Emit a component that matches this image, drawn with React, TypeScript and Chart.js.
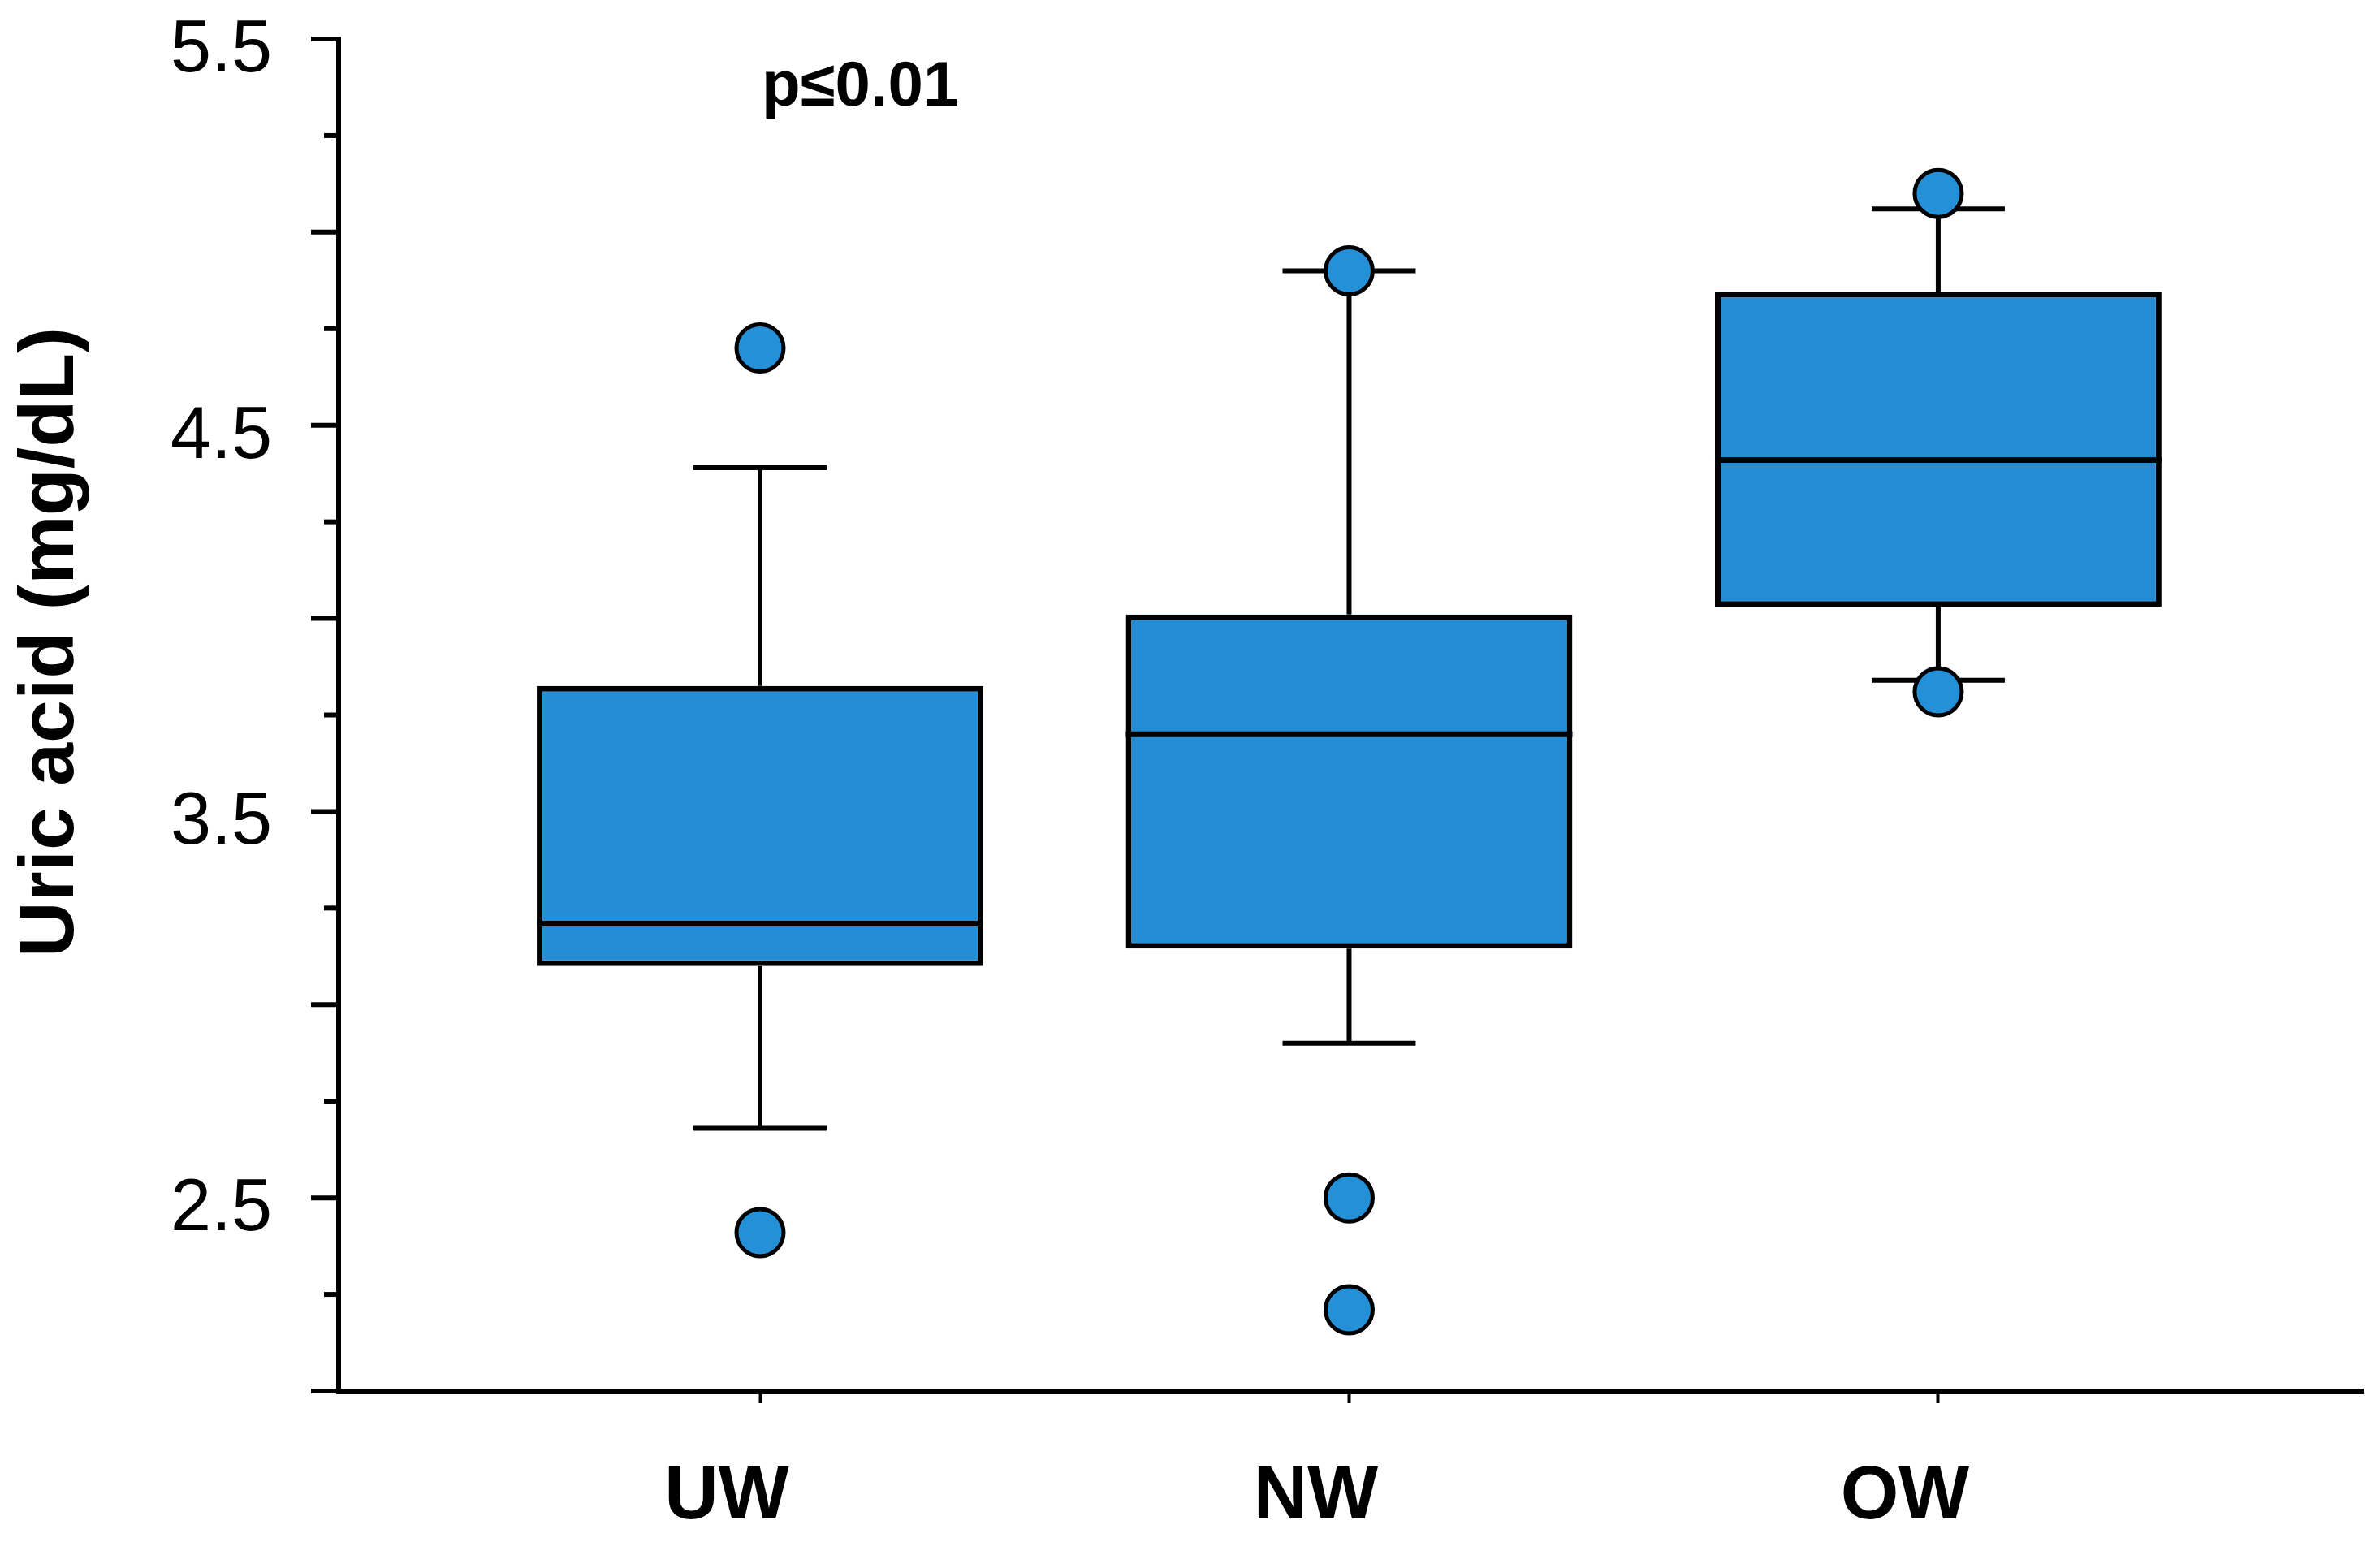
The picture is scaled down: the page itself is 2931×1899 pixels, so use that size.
import React, { useEffect, useRef } from "react";
import { Chart, registerables } from "chart.js";

Chart.register(...registerables);

// ---- data ----
const categories = ["UW", "NW", "OW"];
const q1 = [3.1, 3.145, 4.03];
const medians = [3.21, 3.7, 4.41];
const q3 = [3.825, 4.01, 4.845];
const whiskerLow = [2.68, 2.9, 3.84];
const whiskerHigh = [4.39, 4.9, 5.06];
const outlierGroup = [0, 0, 1, 1, 1, 2, 2];
const outlierValues = [4.7, 2.41, 4.9, 2.5, 2.21, 5.1, 3.81];
const yMin = 2.0;
const yMax = 5.5;
const yStep = 0.25;
const yLabelValues = [2.5, 3.5, 4.5, 5.5];
const yTitle = "Uric acid (mg/dL)";
const annotationText = "p≤0.01";

// ---- styles ----
const FONT = "'Liberation Sans', Arial, Helvetica, sans-serif";
const BOX_FILL = "#238ED6";
const POINT_FILL = "#2490D8";
const CAP_HALF = 0.113; // in category units
const X_MIN = -0.7154;
const X_MAX = 2.721;

const boxPlugin = {
  id: "boxParts",
  beforeDatasetsDraw(chart: any) {
    const { ctx, scales } = chart;
    const x = scales.x;
    const y = scales.y;
    ctx.save();
    ctx.strokeStyle = "#000";
    ctx.lineWidth = 6;
    ctx.lineCap = "butt";
    categories.forEach((_, i) => {
      const px = x.getPixelForValue(i);
      const half = x.getPixelForValue(i + CAP_HALF) - px;
      const yHi = y.getPixelForValue(whiskerHigh[i]);
      const yLo = y.getPixelForValue(whiskerLow[i]);
      const yQ3 = y.getPixelForValue(q3[i]);
      const yQ1 = y.getPixelForValue(q1[i]);
      ctx.beginPath();
      ctx.moveTo(px, yQ3);
      ctx.lineTo(px, yHi);
      ctx.moveTo(px - half, yHi);
      ctx.lineTo(px + half, yHi);
      ctx.moveTo(px, yQ1);
      ctx.lineTo(px, yLo);
      ctx.moveTo(px - half, yLo);
      ctx.lineTo(px + half, yLo);
      ctx.stroke();
    });
    ctx.restore();
  },
  afterDatasetsDraw(chart: any) {
    const { ctx, scales } = chart;
    const y = scales.y;
    const meta = chart.getDatasetMeta(0);
    ctx.save();
    ctx.strokeStyle = "#000";
    ctx.lineWidth = 7;
    meta.data.forEach((bar: any, i: number) => {
      const py = y.getPixelForValue(medians[i]);
      ctx.beginPath();
      ctx.moveTo(bar.x - bar.width / 2, py);
      ctx.lineTo(bar.x + bar.width / 2, py);
      ctx.stroke();
    });
    ctx.restore();
  },
  afterDraw(chart: any) {
    const { ctx, scales, chartArea } = chart;
    const y = scales.y;
    ctx.save();
    // y ticks (long at 0.5 multiples, short at odd quarters)
    ctx.strokeStyle = "#000";
    ctx.lineWidth = 6;
    const ax = chartArea.left;
    y.ticks.forEach((t: any) => {
      const py = y.getPixelForValue(t.value);
      const major = Math.abs(t.value * 2 - Math.round(t.value * 2)) < 1e-6;
      const len = major ? 34 : 18;
      ctx.beginPath();
      ctx.moveTo(ax, py);
      ctx.lineTo(ax - len, py);
      ctx.stroke();
    });
    // y title
    ctx.fillStyle = "#000";
    ctx.font = `bold 95px ${FONT}`;
    ctx.textAlign = "center";
    ctx.textBaseline = "middle";
    ctx.translate(y.left + 64, chartArea.top + 743);
    ctx.rotate(-Math.PI / 2);
    ctx.fillText(yTitle, 0, 0);
    ctx.restore();
    // annotation
    ctx.save();
    ctx.fillStyle = "#000";
    ctx.font = `bold 78px ${FONT}`;
    ctx.textAlign = "left";
    ctx.textBaseline = "alphabetic";
    ctx.fillText(annotationText, chartArea.left + 521, chartArea.top + 82);
    ctx.restore();
  },
};

export default function App() {
  const canvasRef = useRef<HTMLCanvasElement | null>(null);

  useEffect(() => {
    document.body.style.margin = "0";
    const canvas = canvasRef.current;
    if (!canvas) return;

    const boxData = categories.map((_, i) => ({ x: i, y: [q1[i], q3[i]] }));
    const outlierData = outlierValues.map((v, k) => ({ x: outlierGroup[k], y: v }));

    const chart = new Chart(canvas, {
      type: "bar",
      data: {
        datasets: [
          {
            type: "bar",
            label: "box",
            data: boxData as any,
            backgroundColor: BOX_FILL,
            borderColor: "#000",
            borderWidth: 7,
            borderSkipped: false,
            barPercentage: 0.758,
            categoryPercentage: 1,
          } as any,
          {
            type: "scatter",
            label: "outliers",
            data: outlierData,
            backgroundColor: POINT_FILL,
            borderColor: "#000",
            borderWidth: 5,
            pointRadius: 29,
            pointHoverRadius: 29,
            clip: false,
          } as any,
        ],
      },
      options: {
        responsive: false,
        animation: false,
        events: [],
        layout: { autoPadding: false, padding: { left: 0, top: 48, right: 21, bottom: 0 } },
        plugins: {
          legend: { display: false },
          tooltip: { enabled: false },
          title: { display: false },
        },
        scales: {
          x: {
            type: "linear",
            min: X_MIN,
            max: X_MAX,
            offset: false,
            afterBuildTicks: (scale: any) => {
              scale.ticks = categories.map((_, i) => ({ value: i }));
            },
            afterFit: (scale: any) => {
              scale.height = 186;
            },
            ticks: {
              callback: (v: any) => categories[Math.round(Number(v))] ?? "",
              color: "#000",
              padding: 61,
              labelOffset: -41,
              maxRotation: 0,
              autoSkip: false,
              font: { family: FONT, size: 92, weight: "bold", lineHeight: 1.2 },
            },
            grid: {
              display: true,
              offset: false,
              drawOnChartArea: false,
              drawTicks: true,
              tickLength: 15,
              tickWidth: 4,
              tickColor: "#000",
              color: "#000",
            },
            border: { display: true, color: "#000", width: 7 },
          },
          y: {
            type: "linear",
            min: yMin,
            max: yMax,
            afterFit: (scale: any) => {
              scale.width = 417;
            },
            ticks: {
              stepSize: yStep,
              autoSkip: false,
              color: "#000",
              padding: 0,
              labelOffset: 15,
              callback: (v: any) => {
                const n = Number(v);
                return yLabelValues.some((l) => Math.abs(l - n) < 1e-6) ? n.toFixed(1) : "";
              },
              font: { family: FONT, size: 90, lineHeight: 1.0 },
            },
            grid: {
              display: true,
              drawOnChartArea: false,
              drawTicks: true,
              tickLength: 82,
              tickColor: "rgba(0,0,0,0)",
              color: "rgba(0,0,0,0)",
            },
            border: { display: true, color: "#000", width: 6 },
          },
        },
      } as any,
      plugins: [boxPlugin],
    });

    return () => {
      chart.destroy();
    };
  }, []);

  return (
    <div style={{ position: "absolute", left: 0, top: 0, width: 2931, height: 1899, background: "#fff" }}>
      <canvas ref={canvasRef} width={2931} height={1899} style={{ display: "block" }} />
    </div>
  );
}
